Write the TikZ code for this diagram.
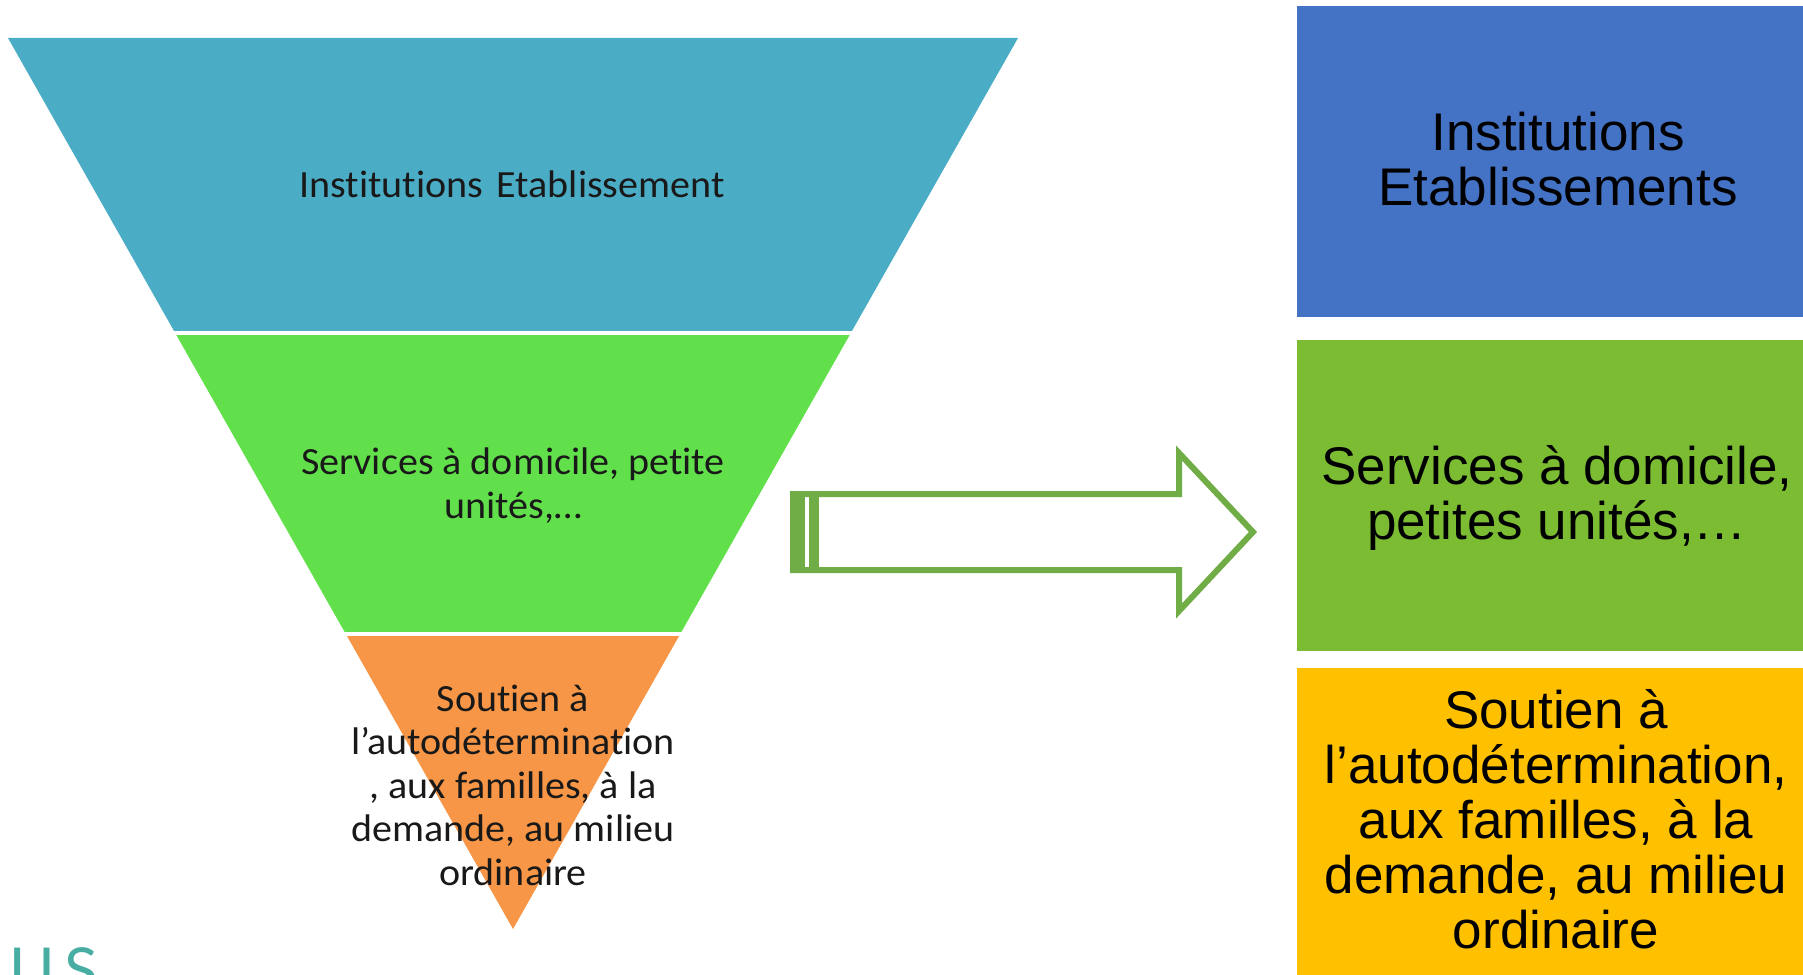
\documentclass[tikz,border=0pt]{standalone}
\usepackage{fontspec}
\newfontfamily\calibf[Ligatures=NoCommon,FakeStretch=1.04]{Carlito}
\newfontfamily\arialf{Liberation Sans}
\newfontfamily\latof{Lato}
\usetikzlibrary{calc}
\definecolor{bandA}{HTML}{4BACC6}
\definecolor{bandB}{HTML}{62E04B}
\definecolor{bandC}{HTML}{F79646}
\definecolor{boxA}{HTML}{4472C4}
\definecolor{boxB}{HTML}{7BBC33}
\definecolor{boxC}{HTML}{FFC000}
\definecolor{arrowG}{HTML}{70AD47}
\definecolor{usteal}{HTML}{48ADA3}
\begin{document}
\begin{tikzpicture}[x=1pt,y=-1pt,
  tritext/.style={font=\calibf\fontsize{38.5}{43.5}\selectfont, text=black!90, align=center, inner sep=0pt, anchor=base},
  boxtext/.style={font=\arialf\fontsize{53}{55}\selectfont, text=black, align=center, inner sep=0pt, anchor=base},
  arrowline/.style={draw=arrowG, line width=6pt, line join=miter},
  gapline/.style={draw=white, line width=4pt}]
\useasboundingbox (0,0) rectangle (1803,974);
\clip (0,0) rectangle (1803,974);
% funnel
\coordinate (A) at (8,38);
\coordinate (B) at (1018,38);
\coordinate (C) at (513,929);
\coordinate (L1) at ($(A)!0.3311!(C)$);
\coordinate (R1) at ($(B)!0.3311!(C)$);
\coordinate (L2) at ($(A)!0.6689!(C)$);
\coordinate (R2) at ($(B)!0.6689!(C)$);
\fill[bandA] (A) -- (B) -- (R1) -- (L1) -- cycle;
\fill[bandB] (L1) -- (R1) -- (R2) -- (L2) -- cycle;
\fill[bandC] (L2) -- (R2) -- (C) -- cycle;
\draw[gapline] ($(L1)+(-5,0)$) -- ($(R1)+(5,0)$);
\draw[gapline] ($(L2)+(-5,0)$) -- ($(R2)+(5,0)$);
% base anchor = baseline of the last line
\node[tritext] (t1) at (512,197) {Institutions\hspace{0.35em}Etablissement};
\node[tritext] (t2) at (513,518) {Services à domicile, petite\\unités,…};
\node[tritext] (t3) at (513,885) {Soutien à\\l’autodétermination\\, aux familles, à la\\demande, au milieu\\ordinaire};
% arrow
\fill[arrowG] (790,491) rectangle (805,573);
\fill[arrowG] (809,491) rectangle (819,573);
\draw[arrowline] (793,494) -- (1179,494) -- (1179,453) -- (1253,532) -- (1179,611) -- (1179,570) -- (793,570) -- cycle;
% boxes
\fill[boxA] (1297,6) rectangle (1820,317);
\fill[boxB] (1297,340) rectangle (1820,651);
\fill[boxC] (1297,668) rectangle (1820,980);
\node[boxtext] (b1) at (1558,205.7) {Institutions\\Etablissements};
\node[boxtext] (b2) at (1557,539) {Services à domicile,\\petites unités,…};
\node[boxtext] (b3) at (1556,948) {Soutien à\\l’autodétermination,\\aux familles, à la\\demande, au milieu\\ordinaire};
% partial logo text
\node[font=\latof\fontsize{62}{62}\selectfont, text=usteal, anchor=base west, inner sep=0pt] (us) at (9,992) {U\hspace{10pt}S};
\end{tikzpicture}
\end{document}
